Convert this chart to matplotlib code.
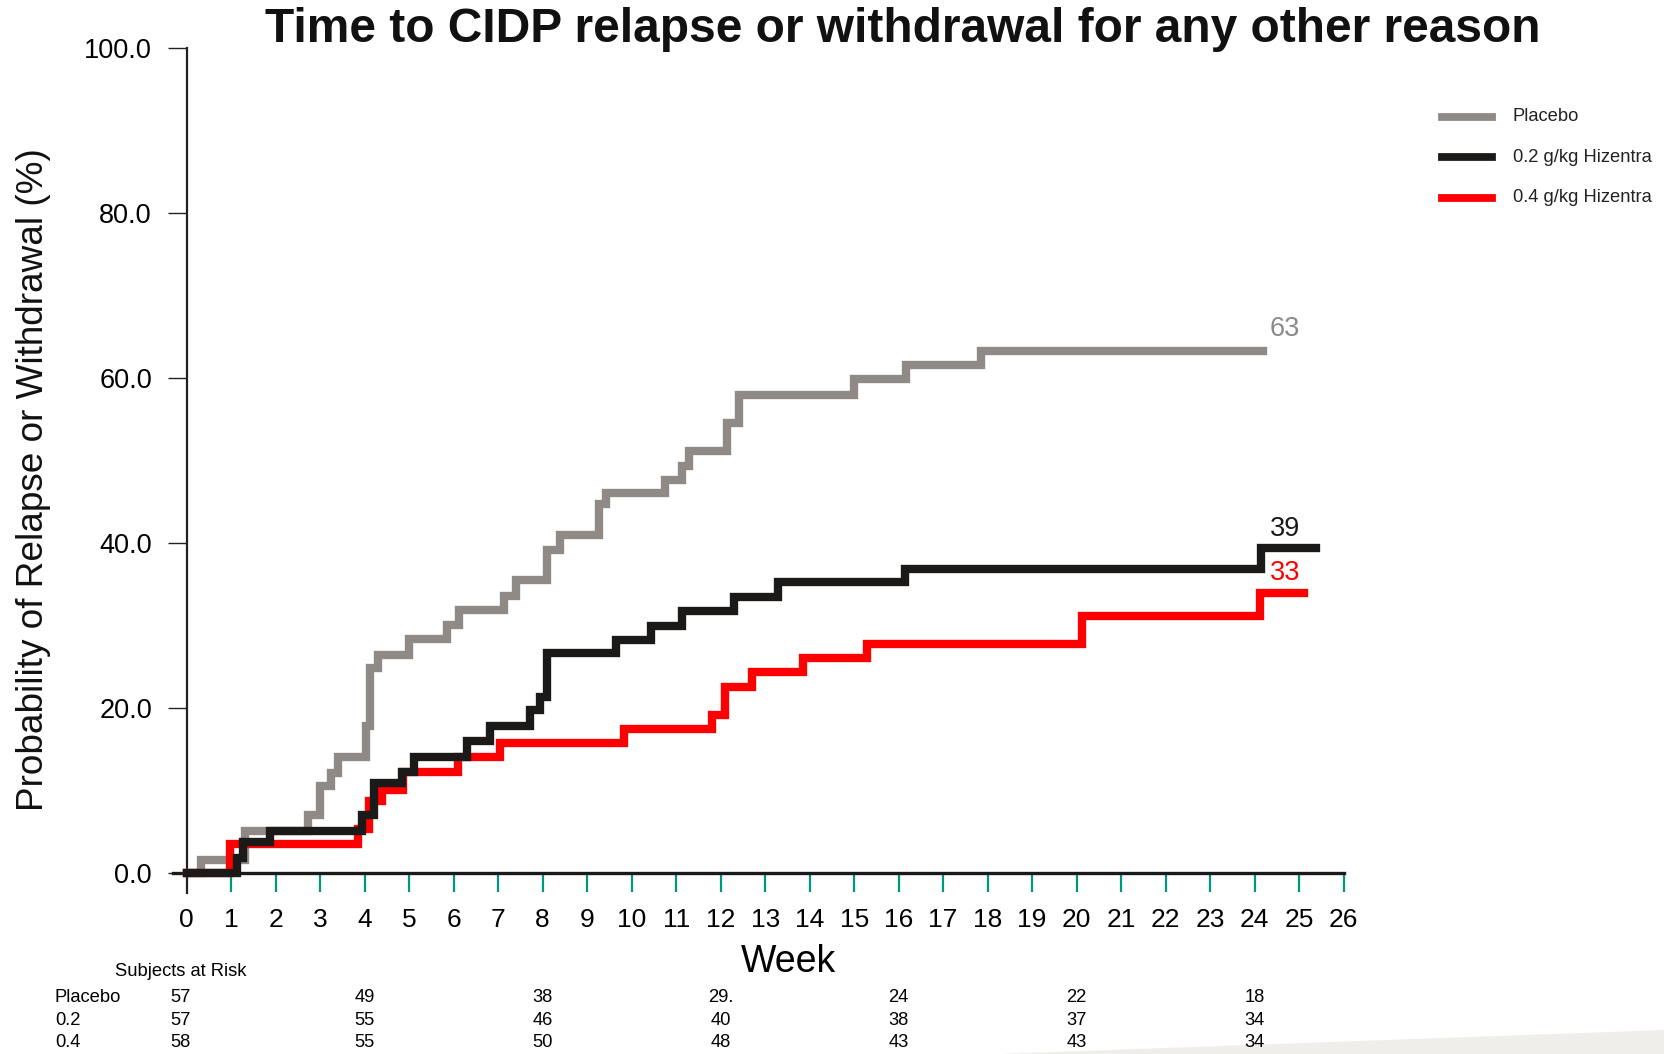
import matplotlib
matplotlib.use("Agg")
import matplotlib.pyplot as plt
from matplotlib.transforms import blended_transform_factory
from matplotlib.patches import Polygon

plt.rcParams['font.family'] = ['Liberation Sans', 'DejaVu Sans']

# Kaplan-Meier style step curves: week of event, cumulative % relapse/withdrawal
pbo_weeks = [0, 0.33, 1.3, 2.73, 3.0, 3.25, 3.4, 4.02, 4.12, 4.3, 5.0, 5.84, 6.13,
             7.13, 7.41, 8.1, 8.4, 9.26, 9.43, 10.74, 11.14, 11.29, 12.14, 12.41,
             14.99, 16.16, 17.86, 24.19]
pbo_pct = [0, 1.6, 5.1, 7.0, 10.5, 12.1, 14.1, 17.8, 24.8, 26.4, 28.3, 30.1, 31.9,
           33.6, 35.5, 39.1, 40.9, 44.7, 46.1, 47.6, 49.3, 51.1, 54.5, 57.9,
           59.9, 61.6, 63.2, 63.2]

low_weeks = [0, 1.13, 1.27, 1.87, 3.93, 4.2, 4.84, 5.1, 6.3, 6.81, 7.71, 7.93, 8.1,
             9.64, 10.44, 11.14, 12.3, 13.3, 16.14, 24.15, 25.38]
low_pct = [0, 1.8, 3.7, 5.1, 7.0, 10.9, 12.3, 14.1, 16.0, 17.8, 19.7, 21.3, 26.6,
           28.2, 29.9, 31.7, 33.5, 35.3, 36.9, 39.4, 39.4]

high_weeks = [0, 0.97, 3.85, 4.1, 4.4, 4.85, 6.1, 7.05, 9.82, 11.8, 12.1, 12.7,
              13.85, 15.3, 20.12, 24.13, 25.1]
high_pct = [0, 3.5, 5.3, 8.7, 10.0, 12.3, 14.1, 15.8, 17.4, 19.1, 22.6, 24.3,
            26.0, 27.8, 31.1, 33.9, 33.9]

series_names = ['Placebo', '0.2 g/kg Hizentra', '0.4 g/kg Hizentra']
row_names = ['Placebo', '0.2', '0.4']
risk_weeks = [0, 4, 8, 12, 16, 20, 24]
risk_pbo = ['57', '49', '38', '29.', '24', '22', '18']
risk_low = ['57', '55', '46', '40', '38', '37', '34']
risk_high = ['58', '55', '50', '48', '43', '43', '34']

GRAY = '#8f8a86'
BLACK = '#1c1a19'
RED = '#ff0000'
TEAL = '#00977f'

W, H = 1665, 1054
fig = plt.figure(figsize=(W / 100, H / 100), dpi=100)
ax = fig.add_axes([186.7 / W, 1 - 873 / H, (1343.6 - 186.7) / W, (873 - 47.8) / H])

curves = [(pbo_weeks, pbo_pct, GRAY), (high_weeks, high_pct, RED), (low_weeks, low_pct, BLACK)]
for wk, pct, col in curves:
    ax.plot(wk, pct, drawstyle='steps-post', color=col, lw=6.0,
            solid_joinstyle='miter', clip_on=False, zorder=3)

# final value labels at the end of each curve
for pct, col, dy in [(pbo_pct, '#8a8a8a', 2.7), (low_pct, BLACK, 2.3), (high_pct, RED, 2.4)]:
    ax.text(24.68, pct[-1] + dy, str(int(pct[-1])), color=col, fontsize=19.5,
            ha='center', va='center')

ax.set_xlim(0, 26)
ax.set_ylim(0, 100)
ax.set_xticks(range(0, 27))
ax.set_yticks([0, 20, 40, 60, 80, 100])
ax.set_yticklabels(['%.1f' % v for v in [0, 20, 40, 60, 80, 100]])
ax.tick_params(axis='x', direction='out', length=13.5, width=1.6, color=TEAL,
               labelsize=19, pad=12)
ax.tick_params(axis='y', direction='out', length=14, width=1.0, color='#222222',
               labelsize=19.5, pad=11)
ax.xaxis.get_major_ticks()[0].tick1line.set_visible(False)
# the y axis line runs a little below the week axis
ax.plot([0, 0], [0, -0.024], transform=ax.transAxes, color='#222222', lw=1.6,
        clip_on=False)
for s in ['top', 'right']:
    ax.spines[s].set_visible(False)
ax.spines['left'].set_linewidth(1.6)
ax.spines['left'].set_color('#222222')
ax.spines['bottom'].set_linewidth(2.4)
ax.spines['bottom'].set_color('#1a1a1a')
ax.spines['bottom'].set_bounds(-0.3, 26)

fig.text(903 / W, 1 - 30 / H, 'Time to CIDP relapse or withdrawal for any other reason',
         fontsize=34.5, fontweight='bold', ha='center', va='center', color='#111111')
fig.text(34 / W, 1 - 480 / H, 'Probability of Relapse or Withdrawal (%)',
         fontsize=26.6, rotation=90, ha='center', va='center', color='#111111')
fig.text(788 / W, 1 - 962 / H, 'Week', fontsize=27, ha='center', va='center')

# legend drawn by hand in the top right corner
for i, (name, col) in enumerate(zip(series_names, [GRAY, BLACK, RED])):
    y = 1 - (116.8 + i * 40.4) / H
    fig.add_artist(plt.Line2D([1442 / W, 1492 / W], [y, y], color=col, lw=5.6))
    fig.text(1513 / W, y, name, fontsize=13.2, va='center', ha='left', color='#222222')

# subjects at risk table under the axis
tr = blended_transform_factory(ax.transData, fig.transFigure)
fig.text(115 / W, 1 - 971.5 / H, 'Subjects at Risk', fontsize=13.2, va='center')
row_y = [998, 1020.4, 1042.7]
for name, vals, yy in zip(row_names, [risk_pbo, risk_low, risk_high], row_y):
    fig.text(55 / W, 1 - yy / H, name, fontsize=13.2, va='center', ha='left')
    for wk, v in zip(risk_weeks, vals):
        ax.text(wk - (0.15 if wk == 0 else 0), 1 - yy / H, v, transform=tr,
                fontsize=13.2, va='center', ha='center')

# light wedge in the lower right corner
fig.add_artist(Polygon([(998 / W, 0), (1, 24 / H), (1, 0)], closed=True,
                       transform=fig.transFigure, facecolor='#efeeeb', edgecolor='none',
                       zorder=0))

fig.savefig('out.png', dpi=100)
